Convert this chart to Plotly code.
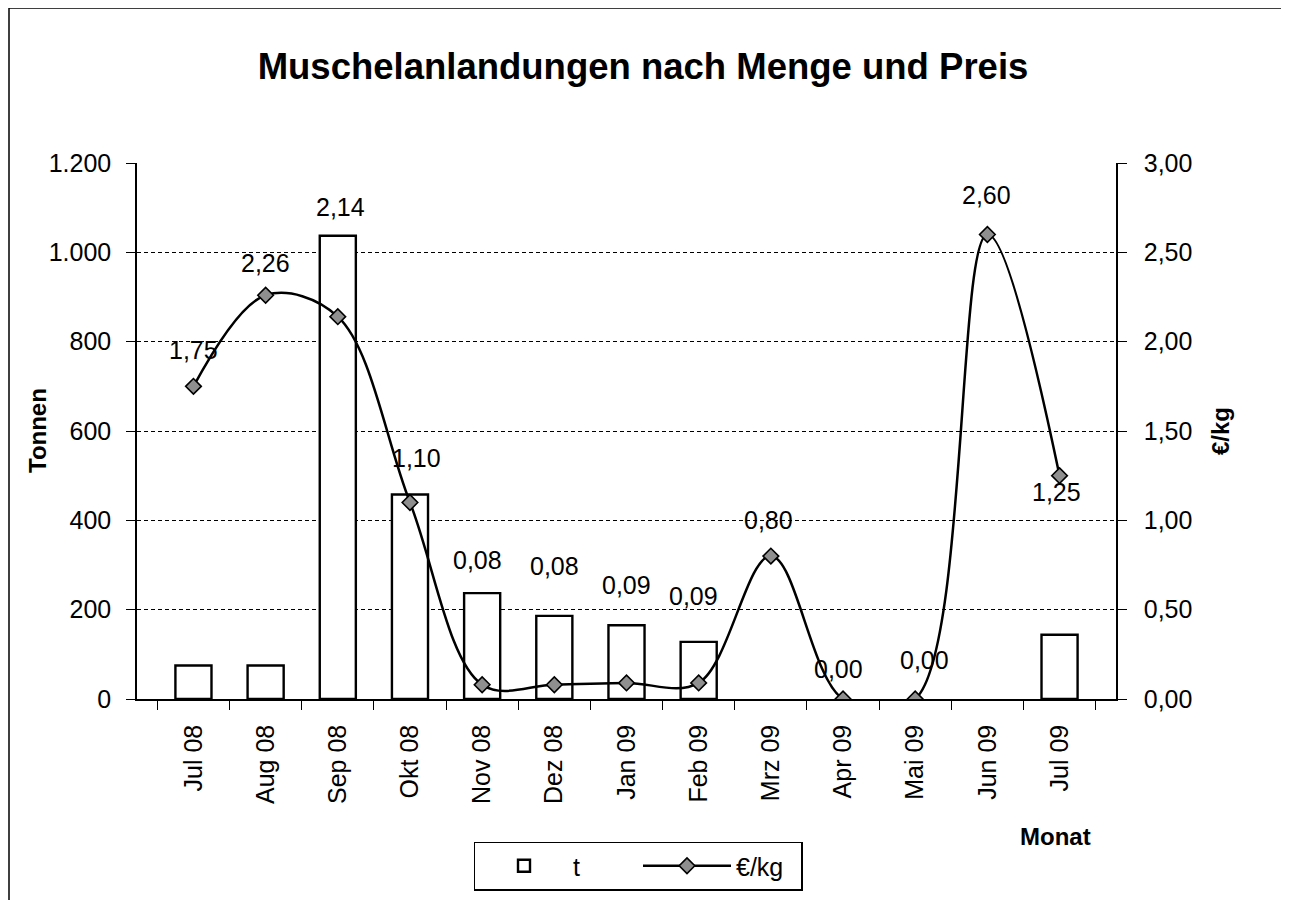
import plotly.graph_objects as go

# Monatsdaten
months = ['Jul 08', 'Aug 08', 'Sep 08', 'Okt 08', 'Nov 08', 'Dez 08', 'Jan 09',
          'Feb 09', 'Mrz 09', 'Apr 09', 'Mai 09', 'Jun 09', 'Jul 09']
tonnen = [75, 75, 1037, 458, 237, 186, 165, 128, 0, 0, 0, 0, 144]
preis = [1.75, 2.26, 2.14, 1.10, 0.08, 0.08, 0.09, 0.09, 0.80, 0.00, 0.00, 2.60, 1.25]
left_ticks = [0, 200, 400, 600, 800, 1000, 1200]
right_ticks = [0, 0.5, 1.0, 1.5, 2.0, 2.5, 3.0]

# label offsets in pixels (style only)
label_dx = [0, 0, 3, 7, -5, 0, 0, -5, -2, -5, 9, -1, -3]
label_dy = [36, 32, 110, 44, 125, 119, 98, 87, 36, 30, 39, 39, -16]

# the html body adds an 8px margin, so the figure is a bit smaller than the window
OFF = 8
W, H = 1289 - OFF, 900 - OFF
ML, MT = 137 - OFF, 163 - OFF
MR, MB = W - (1116 - OFF), H - (699 - OFF)
PW, PH = W - ML - MR, H - MT - MB
FONT = 'Liberation Sans, Arial, sans-serif'


def px(x):  # screen x -> paper
    return (x - OFF - ML) / PW


def py(y):  # screen y -> paper
    return (H - MB - (y - OFF)) / PH


def de(v, nd=2):
    return f'{v:.{nd}f}'.replace('.', ',')


fig = go.Figure()

# empty months get no bar outline
fig.add_trace(go.Bar(
    x=months, y=[v if v else None for v in tonnen], name='t',
    marker=dict(color='white', line=dict(color='black', width=2.4)),
    width=0.5,
))

fig.add_trace(go.Scatter(
    x=months, y=preis, name='€/kg', yaxis='y2',
    mode='lines+markers',
    line=dict(color='black', width=2.5, shape='spline', smoothing=1.0),
    marker=dict(symbol='diamond', size=12, color='#8f8f8f',
                line=dict(color='black', width=1.6)),
))

# data labels for the price line
for m, p, dx, dy in zip(months, preis, label_dx, label_dy):
    fig.add_annotation(x=m, y=p, yref='y2', text=de(p), showarrow=False,
                       xshift=dx, yshift=dy,
                       font=dict(family=FONT, size=25, color='black'))

# axis titles
title_font = dict(family=FONT, size=24, color='black')
fig.add_annotation(text='<b>Tonnen</b>', xref='paper', yref='paper',
                   x=px(37), y=py(431), textangle=-90, showarrow=False,
                   xanchor='center', yanchor='middle', font=title_font)
fig.add_annotation(text='<b>€/kg</b>', xref='paper', yref='paper',
                   x=px(1220), y=py(431), textangle=-90, showarrow=False,
                   xanchor='center', yanchor='middle', font=title_font)
fig.add_annotation(text='<b>Monat</b>', xref='paper', yref='paper',
                   x=px(1055), y=py(836), showarrow=False,
                   xanchor='center', yanchor='middle', font=title_font)

# outer frame of the chart
fig.add_shape(type='rect', xref='paper', yref='paper',
              x0=px(9), x1=px(1285), y0=py(915), y1=py(8),
              line=dict(color='black', width=1.5), fillcolor='rgba(0,0,0,0)')

fig.update_layout(
    width=W, height=H,
    margin=dict(l=ML, r=MR, t=MT, b=MB, autoexpand=False),
    paper_bgcolor='white', plot_bgcolor='white',
    separators=',.',
    font=dict(family=FONT, size=25, color='black'),
    title=dict(text='<b>Muschelanlandungen nach Menge und Preis</b>',
               x=(643 - OFF) / W, xanchor='center', y=1 - (66 - OFF) / H,
               yanchor='middle', yref='container',
               font=dict(family=FONT, size=36.5, color='black')),
    showlegend=True,
    legend=dict(orientation='h', x=px(638), xanchor='center',
                y=py(866), yanchor='middle',
                bordercolor='black', borderwidth=1.5, bgcolor='white',
                font=dict(family=FONT, size=25), itemwidth=88,
                entrywidth=60),
    bargap=0.5,
    xaxis=dict(
        type='category', tickangle=-90, ticks='outside', ticklen=9,
        tickson='boundaries', tickcolor='black', ticklabelstandoff=14,
        showline=True, linecolor='black', linewidth=1.5,
        showgrid=False, tickfont=dict(size=25),
    ),
    yaxis=dict(
        range=[0, 1200], tickvals=left_ticks, tickformat=',d',
        ticks='outside', ticklen=9, tickcolor='black', ticklabelstandoff=10,
        showline=True, linecolor='black', linewidth=1.5,
        showgrid=True, gridcolor='black', gridwidth=1, griddash='4px,3px',
        zeroline=False, tickfont=dict(size=25),
    ),
    yaxis2=dict(
        range=[0, 3], tickvals=right_ticks, tickformat='.2f',
        overlaying='y', side='right',
        ticks='outside', ticklen=9, tickcolor='black', ticklabelstandoff=12,
        showline=True, linecolor='black', linewidth=1.5,
        showgrid=False, zeroline=False, tickfont=dict(size=25),
    ),
)

fig.write_html('out.html')
